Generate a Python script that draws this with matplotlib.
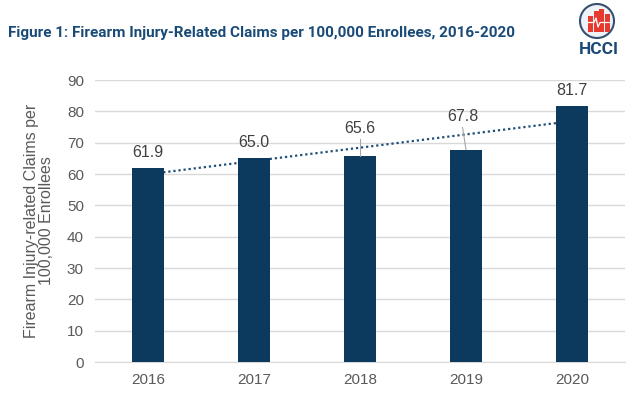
import matplotlib.pyplot as plt
import numpy as np
from matplotlib.patches import Circle, Rectangle

## DATA
years = ['2016', '2017', '2018', '2019', '2020']
claims = [61.9, 65.0, 65.6, 67.8, 81.7]
label_offsets = [5, 5, 9, 10.4, 5]          # how far above each bar the value label sits
label_shift = [0, 0, 0, -0.032, 0]          # sideways nudge of the label
yticks = [0, 10, 20, 30, 40, 50, 60, 70, 80, 90]

navy = '#0b3a5e'
gray = '#595959'

plt.rcParams['font.family'] = ['Liberation Sans', 'DejaVu Sans']

fig = plt.figure(figsize=(6.4, 3.98), dpi=100)
ax = fig.add_axes([95/640, 1 - 362/398, 530/640, 282/398])

x = np.arange(len(years))
ax.bar(x, claims, width=0.31, color=navy, zorder=3)

# linear trend line (dotted), sits behind the bars
slope, icpt = np.polyfit(x, claims, 1)
ax.plot([x[0], x[-1]], [icpt, icpt + slope * x[-1]], color='#1f4e79',
        linestyle=(0, (1, 1.3)), linewidth=1.6, zorder=2)

# value labels, with leader lines where pushed up
for i, v in enumerate(claims):
    off = label_offsets[i]
    lx = x[i] + label_shift[i]
    ax.text(lx, v + off, f'{v:.1f}', ha='center', va='center',
            fontsize=11.5, color='#404040', zorder=4)
    if off > 6:
        ax.plot([lx, x[i]], [v + off - 3.4, v], color='#a6a6a6',
                linewidth=0.8, zorder=4)

ax.set_xlim(-0.5, 4.5)
ax.set_ylim(0, 90)
ax.set_yticks(yticks)
ax.set_xticks(x)
ax.set_xticklabels(years)
ax.tick_params(axis='both', length=0, labelsize=11, colors=gray, pad=8)
ax.yaxis.grid(True, color='#d9d9d9', linewidth=1, zorder=0)
ax.set_axisbelow(True)
for s in ['top', 'right', 'left']:
    ax.spines[s].set_visible(False)
ax.spines['bottom'].set_color('#d9d9d9')

ax.set_ylabel('Firearm Injury-related Claims per\n100,000 Enrollees',
              fontsize=11.5, color=gray, linespacing=1.0, labelpad=9)

# title
fig.text(8/640, 1 - 33/398, 'Figure 1: Firearm Injury-Related Claims per 100,000 Enrollees, 2016-2020',
         fontsize=11, fontweight='bold', color='#1a4b78', family='Roboto',
         ha='left', va='center')

# HCCI logo (axes in pixel units, 45 x 58 px)
lax = fig.add_axes([575/640, 1 - 58/398, 45/640, 58/398])
lax.set_xlim(0, 45)
lax.set_ylim(0, 58)
lax.axis('off')
lax.add_patch(Circle((22, 37), 17, facecolor='#eef2f6', edgecolor='#34506e',
                     linewidth=1.5, clip_on=False))
bar_x = [13, 18.5, 24, 29.5]
bar_top = [42, 47, 49, 44]
for bx, bt in zip(bar_x, bar_top):
    lax.add_patch(Rectangle((bx, 26), 5.2, bt - 26, facecolor='#e8392f',
                            edgecolor='none', clip_on=False))
lax.plot([13, 19, 21, 23, 25, 34.7], [35.5, 35.5, 40, 31, 35.5, 35.5],
         color='white', linewidth=0.9, clip_on=False)
lax.text(24, 8, 'HCCI', ha='center', va='center', fontsize=12.5,
         fontweight='bold', color='#1a4b78', family='Roboto')

fig.savefig('out.png', dpi=100)
